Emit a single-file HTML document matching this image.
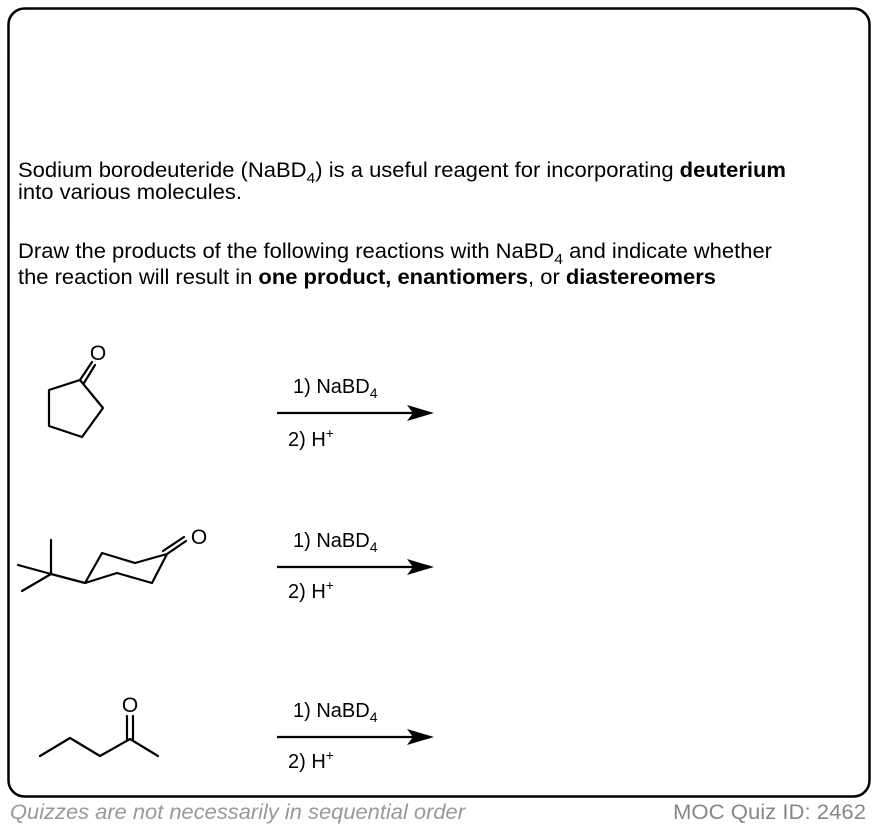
<!DOCTYPE html>
<html><head><style>
body{margin:0;width:878px;height:830px;background:#fff;font-family:"Liberation Sans",Arial,sans-serif;}
</style></head><body>
<svg width="878" height="830" xmlns="http://www.w3.org/2000/svg" font-family="Liberation Sans, Arial, sans-serif">
<rect x="8.5" y="8.5" width="861" height="788" rx="16" fill="none" stroke="#000" stroke-width="2.5"/>
<g font-size="21" fill="#000">
<text x="18" y="177" textLength="768" lengthAdjust="spacingAndGlyphs">Sodium borodeuteride (NaBD<tspan font-size="15" dy="6">4</tspan><tspan dy="-6">) is a useful reagent for incorporating </tspan><tspan font-weight="bold">deuterium</tspan></text>
<text x="18" y="199" textLength="224" lengthAdjust="spacingAndGlyphs">into various molecules.</text>
<text x="18" y="258" textLength="754" lengthAdjust="spacingAndGlyphs">Draw the products of the following reactions with NaBD<tspan font-size="15" dy="6">4</tspan><tspan dy="-6"> and indicate whether</tspan></text>
<text x="18" y="284" textLength="698" lengthAdjust="spacingAndGlyphs">the reaction will result in <tspan font-weight="bold">one product, enantiomers</tspan>, or <tspan font-weight="bold">diastereomers</tspan></text>
</g>
<g stroke="#000" stroke-width="2.2" fill="none" stroke-linejoin="round" stroke-linecap="round">
<polygon points="80,380 49,390 49,426 82,437 103,408"/>
<line x1="80" y1="380" x2="92" y2="362"/><line x1="84" y1="383" x2="95" y2="365"/>
<line x1="51" y1="574" x2="51" y2="540"/><line x1="51" y1="574" x2="18" y2="565"/><line x1="51" y1="574" x2="22" y2="591"/>
<line x1="51" y1="574" x2="85" y2="583"/>
<polygon points="85,583 102,553 135,563 167,554 152,583 117,573"/>
<line x1="167" y1="554" x2="186" y2="541"/><line x1="163" y1="551" x2="184" y2="537"/>
<polyline points="40,756 70,738 100,756 130,739 158,756"/>
<line x1="127" y1="739" x2="127" y2="716"/><line x1="133" y1="739" x2="133" y2="716"/>
</g>
<g font-size="21">
<text x="98" y="360" text-anchor="middle">O</text>
<text x="199" y="544" text-anchor="middle">O</text>
<text x="130" y="712" text-anchor="middle">O</text>
</g>
<g font-size="20">
<text x="293" y="393">1) NaBD<tspan font-size="14" dy="5">4</tspan></text>
<text x="288" y="446">2) H<tspan font-size="14" dy="-8">+</tspan></text>
<text x="293" y="547">1) NaBD<tspan font-size="14" dy="5">4</tspan></text>
<text x="288" y="598">2) H<tspan font-size="14" dy="-8">+</tspan></text>
<text x="293" y="717">1) NaBD<tspan font-size="14" dy="5">4</tspan></text>
<text x="288" y="768">2) H<tspan font-size="14" dy="-8">+</tspan></text>
</g>
<g>
<line x1="277" y1="413" x2="415" y2="413" stroke="#000" stroke-width="2.2"/><polygon points="434,413 407,405 413,413 407,421" fill="#000"/>
<line x1="277" y1="567" x2="415" y2="567" stroke="#000" stroke-width="2.2"/><polygon points="434,567 407,559 413,567 407,575" fill="#000"/>
<line x1="277" y1="737" x2="415" y2="737" stroke="#000" stroke-width="2.2"/><polygon points="434,737 407,729 413,737 407,745" fill="#000"/>
</g>
<text x="10" y="819" font-size="21" font-style="italic" fill="#999" textLength="455" lengthAdjust="spacingAndGlyphs">Quizzes are not necessarily in sequential order</text>
<text x="673" y="819" font-size="21" fill="#888" textLength="193" lengthAdjust="spacingAndGlyphs">MOC Quiz ID: 2462</text>
</svg>
</body></html>
